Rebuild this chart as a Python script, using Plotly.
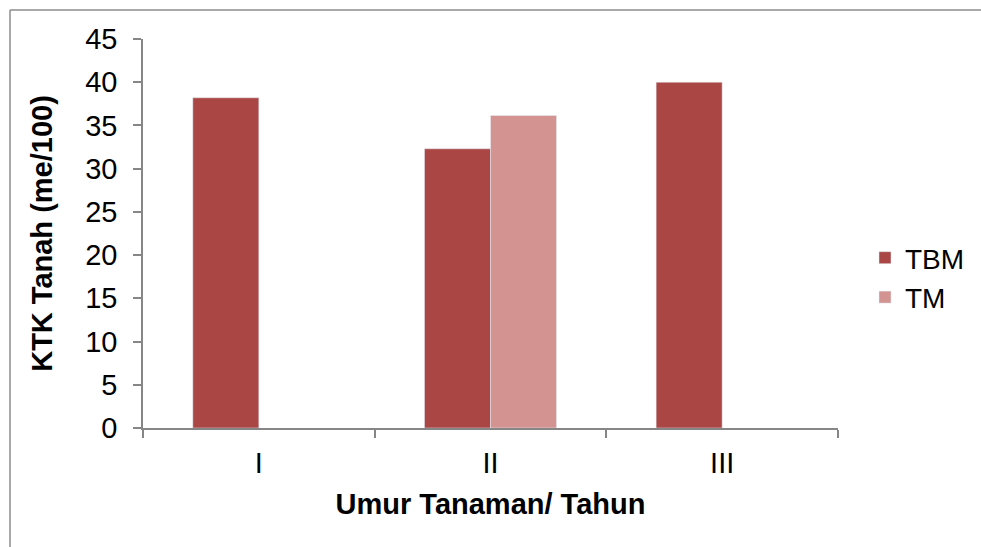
import plotly.graph_objects as go

# Soil CEC by plant age class
categories = ["I", "II", "III"]
tbm_values = [38.2, 32.3, 40.0]
tm_values = [None, 36.15, None]
y_ticks = [0, 5, 10, 15, 20, 25, 30, 35, 40, 45]

font_family = "Liberation Sans, Arial, sans-serif"
axis_color = "#868686"

fig = go.Figure()
fig.add_trace(go.Bar(name="TBM", x=categories, y=tbm_values,
                     marker=dict(color="#AA4644")))
fig.add_trace(go.Bar(name="TM", x=categories, y=tm_values,
                     marker=dict(color="#D39391")))

W, H = 981, 547
L, R, T, B = 143, 143, 39, 119
pw, ph = W - L - R, H - T - B


def px_x(px):
    return (px - L) / pw


def px_y(py):
    return (H - B - py) / ph


fig.update_layout(
    width=W, height=H,
    margin=dict(l=L, r=R, t=T, b=B, pad=0, autoexpand=False),
    paper_bgcolor="white", plot_bgcolor="white",
    barmode="group", bargap=0.43, bargroupgap=0,
    font=dict(family=font_family, size=29, color="black"),
    showlegend=True,
    legend=dict(x=px_x(865), y=px_y(233), xanchor="left", yanchor="top",
                font=dict(size=28), bgcolor="rgba(0,0,0,0)",
                itemwidth=30, tracegroupgap=0),
    xaxis=dict(
        showline=True, linecolor=axis_color, linewidth=1.5,
        ticks="outside", ticklen=8, tickcolor=axis_color, tickwidth=1.5,
        tickson="boundaries", showgrid=False, zeroline=False,
        ticklabelstandoff=8,
        title=dict(text="<b>Umur Tanaman/ Tahun</b>", font=dict(size=29),
                   standoff=16),
    ),
    yaxis=dict(
        range=[0, 45], tickvals=y_ticks, showline=True,
        linecolor=axis_color, linewidth=1.5,
        ticks="outside", ticklen=8, tickcolor=axis_color, tickwidth=1.5,
        showgrid=False, zeroline=False,
        ticklabelstandoff=10,
        title=dict(text="<b>KTK Tanah (me/100)</b>", font=dict(size=29),
                   standoff=24),
    ),
    shapes=[
        dict(type="line", xref="paper", yref="paper",
             x0=px_x(10), x1=px_x(W), y0=px_y(10), y1=px_y(10),
             line=dict(color="#8C8C8C", width=1.5)),
        dict(type="line", xref="paper", yref="paper",
             x0=px_x(10), x1=px_x(10), y0=px_y(10), y1=px_y(H),
             line=dict(color="#8C8C8C", width=1.5)),
    ],
)

fig.write_html("out.html")
